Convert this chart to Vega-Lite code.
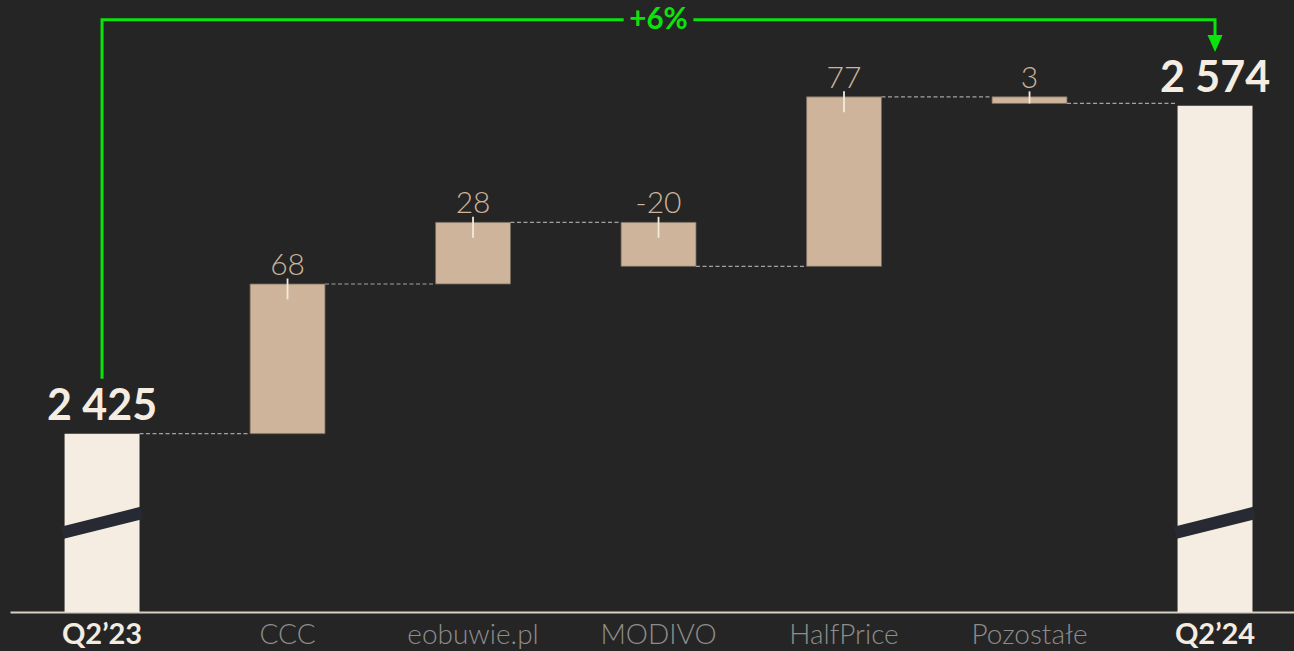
{
  "$schema": "https://vega.github.io/schema/vega-lite/v6.json",
  "width": 1284,
  "height": 612,
  "autosize": {"type": "none"},
  "padding": {"left": 10, "top": 0, "right": 0, "bottom": 39},
  "background": "#252525",
  "config": {"view": {"stroke": null}, "font": "Lato"},
  "datasets": {
    "bars": [
      {"cat": "Q2’23", "kind": "total", "low": 0, "high": 2425, "end": 2425, "label": "2 425", "next": "CCC", "breakLow": 2380, "breakHigh": 2389},
      {"cat": "CCC", "kind": "change", "low": 2425, "high": 2493, "end": 2493, "label": "68", "next": "eobuwie.pl"},
      {"cat": "eobuwie.pl", "kind": "change", "low": 2493, "high": 2521, "end": 2521, "label": "28", "next": "MODIVO"},
      {"cat": "MODIVO", "kind": "change", "low": 2501, "high": 2521, "end": 2501, "label": "-20", "next": "HalfPrice"},
      {"cat": "HalfPrice", "kind": "change", "low": 2501, "high": 2578, "end": 2578, "label": "77", "next": "Pozostałe"},
      {"cat": "Pozostałe", "kind": "change", "low": 2575, "high": 2578, "end": 2575, "label": "3", "next": "Q2’24"},
      {"cat": "Q2’24", "kind": "total", "low": 0, "high": 2574, "end": 2574, "label": "2 574", "breakLow": 2380, "breakHigh": 2389}
    ],
    "arrow": [
      {"cat": "Q2’23", "y": 2450, "o": 1},
      {"cat": "Q2’23", "y": 2613, "o": 2},
      {"cat": "Q2’24", "y": 2613, "o": 3},
      {"cat": "Q2’24", "y": 2606, "o": 4}
    ],
    "arrowHead": [{"cat": "Q2’24", "y": 2602.2}],
    "growth": [{"cat": "MODIVO", "y": 2613, "label": "+6%"}]
  },
  "layer": [
    {
      "data": {"name": "bars"},
      "transform": [{"filter": "datum.kind == 'total'"}],
      "mark": {"type": "bar", "color": "#f5ede2"},
      "encoding": {
        "x": {
          "field": "cat", "type": "nominal", "title": null,
          "scale": {"type": "band", "domain": ["Q2’23", "CCC", "eobuwie.pl", "MODIVO", "HalfPrice", "Pozostałe", "Q2’24"], "paddingInner": 0.596, "paddingOuter": 0.259, "align": 0.568},
          "axis": {
            "domainColor": "#d8d0c2", "domainWidth": 2, "ticks": false, "tickSize": 0, "grid": false,
            "labelPadding": 31, "labelBaseline": "alphabetic", "labelAngle": 0, "labelFont": "Lato", "labelOverlap": false,
            "labelFontSize": {"condition": {"test": "indexof(datum.value, 'Q2') == 0", "value": 29}, "value": 28},
            "labelColor": {"condition": {"test": "indexof(datum.value, 'Q2') == 0", "value": "#f3ece0"}, "value": "#8d8d8d"},
            "labelFontWeight": {"condition": {"test": "indexof(datum.value, 'Q2') == 0", "value": "bold"}, "value": 300}
          }
        },
        "y": {"field": "high", "type": "quantitative", "scale": {"domain": [2344, 2622], "nice": false, "zero": false, "clamp": true}, "axis": null},
        "y2": {"field": "low"}
      }
    },
    {
      "data": {"name": "bars"},
      "transform": [{"filter": "datum.kind == 'change'"}],
      "mark": {"type": "bar", "color": "#cdb49a", "stroke": "#75695c", "strokeWidth": 1, "strokeOpacity": 0.8},
      "encoding": {
        "x": {"field": "cat", "type": "nominal"},
        "y": {"field": "high", "type": "quantitative"},
        "y2": {"field": "low"}
      }
    },
    {
      "data": {"name": "bars"},
      "transform": [{"filter": "datum.kind == 'total'"}],
      "mark": {"type": "rule", "color": "#272a33", "strokeWidth": 12.5, "strokeCap": "butt"},
      "encoding": {
        "x": {"field": "cat", "type": "nominal", "bandPosition": -0.03},
        "x2": {"field": "cat", "bandPosition": 1.03},
        "y": {"field": "breakLow", "type": "quantitative"},
        "y2": {"field": "breakHigh"}
      }
    },
    {
      "data": {"name": "bars"},
      "transform": [{"filter": "isValid(datum.next)"}],
      "mark": {"type": "rule", "color": "#a3a3a3", "strokeWidth": 1.2, "strokeDash": [4, 2.5]},
      "encoding": {
        "x": {"field": "cat", "type": "nominal", "bandPosition": 1},
        "x2": {"field": "next", "bandPosition": 0},
        "y": {"field": "end", "type": "quantitative"}
      }
    },
    {
      "data": {"name": "bars"},
      "transform": [
        {"filter": "datum.kind == 'change'"},
        {"calculate": "max(datum.low, datum.high - 7)", "as": "tickEnd"}
      ],
      "mark": {"type": "rule", "color": "#f2ebe0", "strokeWidth": 1.8, "yOffset": -5.5},
      "encoding": {
        "x": {"field": "cat", "type": "nominal"},
        "y": {"field": "high", "type": "quantitative"},
        "y2": {"field": "tickEnd"}
      }
    },
    {
      "data": {"name": "bars"},
      "transform": [{"filter": "datum.kind == 'change'"}],
      "mark": {"type": "text", "font": "Lato", "fontSize": 30, "fontWeight": 300, "color": "#cdb49a", "baseline": "alphabetic", "dy": -9},
      "encoding": {
        "x": {"field": "cat", "type": "nominal"},
        "y": {"field": "high", "type": "quantitative"},
        "text": {"field": "label"}
      }
    },
    {
      "data": {"name": "bars"},
      "transform": [{"filter": "datum.kind == 'total'"}],
      "mark": {"type": "text", "font": "Lato", "fontSize": 43, "fontWeight": "bold", "color": "#f5ede2", "baseline": "alphabetic", "dy": -14},
      "encoding": {
        "x": {"field": "cat", "type": "nominal"},
        "y": {"field": "high", "type": "quantitative"},
        "text": {"field": "label"}
      }
    },
    {
      "data": {"name": "arrow"},
      "mark": {"type": "line", "color": "#0be40b", "strokeWidth": 3, "strokeJoin": "miter", "strokeCap": "butt"},
      "encoding": {
        "x": {"field": "cat", "type": "nominal"},
        "y": {"field": "y", "type": "quantitative"},
        "order": {"field": "o", "type": "quantitative"}
      }
    },
    {
      "data": {"name": "growth"},
      "mark": {"type": "bar", "color": "#252525", "width": {"band": 0.93}, "yOffset": -5, "y2Offset": 5},
      "encoding": {
        "x": {"field": "cat", "type": "nominal"},
        "y": {"field": "y", "type": "quantitative"},
        "y2": {"field": "y"}
      }
    },
    {
      "data": {"name": "growth"},
      "mark": {"type": "text", "font": "Lato", "fontSize": 29.5, "fontWeight": "bold", "color": "#0be40b", "baseline": "alphabetic", "dy": 9.5},
      "encoding": {
        "x": {"field": "cat", "type": "nominal"},
        "y": {"field": "y", "type": "quantitative"},
        "text": {"field": "label"}
      }
    },
    {
      "data": {"name": "arrowHead"},
      "mark": {"type": "point", "shape": "M-1,-1.13L1,-1.13L0,1.13Z", "size": 225, "filled": true, "color": "#0be40b", "opacity": 1, "strokeWidth": 0},
      "encoding": {
        "x": {"field": "cat", "type": "nominal"},
        "y": {"field": "y", "type": "quantitative"}
      }
    }
  ]
}
